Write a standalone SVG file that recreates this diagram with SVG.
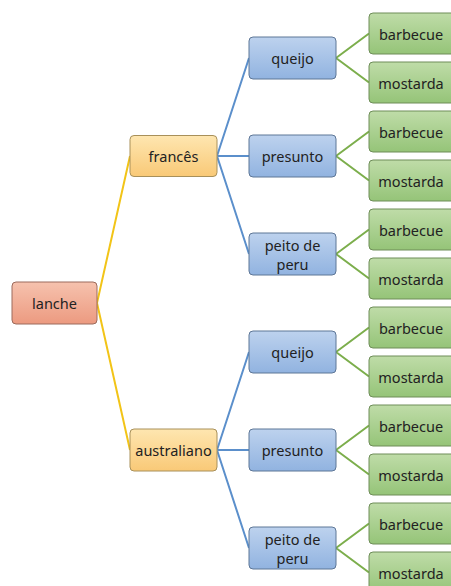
<svg xmlns="http://www.w3.org/2000/svg" width="451" height="586" viewBox="0 0 451 586">
<defs>
<linearGradient id="gRed" x1="0" y1="0" x2="0" y2="1"><stop offset="0" stop-color="#f6c2ae"/><stop offset="1" stop-color="#ec9a80"/></linearGradient>
<linearGradient id="gOrg" x1="0" y1="0" x2="0" y2="1"><stop offset="0" stop-color="#fee6b0"/><stop offset="1" stop-color="#f9c977"/></linearGradient>
<linearGradient id="gBlu" x1="0" y1="0" x2="0" y2="1"><stop offset="0" stop-color="#bdd2ee"/><stop offset="1" stop-color="#91b3e0"/></linearGradient>
<linearGradient id="gGrn" x1="0" y1="0" x2="0" y2="1"><stop offset="0" stop-color="#bfdca8"/><stop offset="1" stop-color="#95c478"/></linearGradient>
</defs>
<style>
rect{stroke-width:1}
.red rect{fill:url(#gRed);stroke:#9c6a5c}
.org rect{fill:url(#gOrg);stroke:#a8905a}
.blu rect{fill:url(#gBlu);stroke:#5d7696}
.grn rect{fill:url(#gGrn);stroke:#6e8d58}
text{font-family:"Noto Sans","Open Sans","Liberation Sans",sans-serif;font-size:14.5px;fill:#222;text-anchor:middle;dominant-baseline:central}
.y{stroke:#f2c417;stroke-width:2;fill:none}
.b{stroke:#5b8fcb;stroke-width:2;fill:none}
.g{stroke:#7cae4c;stroke-width:2;fill:none}
</style>
<g id="connectors">
<path class="y" d="M97,303L130,156M97,303L130,450"/>
<path class="b" d="M217,156L249,58M217,156L249,156M217,156L249,254M217,450L249,352M217,450L249,450M217,450L249,548"/>
<path class="g" d="M336,58L369,33.5M336,58L369,82.5M336,156L369,131.5M336,156L369,180.5M336,254L369,229.5M336,254L369,278.5M336,352L369,327.5M336,352L369,376.5M336,450L369,425.5M336,450L369,474.5M336,548L369,523.5M336,548L369,572.5"/>
</g>
<g id="lanche" class="red"><rect x="12" y="282" width="85" height="42" rx="4"/><text x="54.5" y="303">lanche</text></g>
<g id="frances" class="org"><rect x="130" y="135.5" width="87" height="41" rx="4"/><text x="173.5" y="156">francês</text></g>
<g id="australiano" class="org"><rect x="130" y="429" width="87" height="42" rx="4"/><text x="173.5" y="450">australiano</text></g>
<g id="queijo1" class="blu"><rect x="249" y="37" width="87" height="42" rx="4"/><text x="292.5" y="58">queijo</text></g>
<g id="presunto1" class="blu"><rect x="249" y="135" width="87" height="42" rx="4"/><text x="292.5" y="156">presunto</text></g>
<g id="peito1" class="blu"><rect x="249" y="233" width="87" height="42" rx="4"/><text x="292.5" y="245">peito de</text><text x="292.5" y="264">peru</text></g>
<g id="queijo2" class="blu"><rect x="249" y="331" width="87" height="42" rx="4"/><text x="292.5" y="352">queijo</text></g>
<g id="presunto2" class="blu"><rect x="249" y="429" width="87" height="42" rx="4"/><text x="292.5" y="450">presunto</text></g>
<g id="peito2" class="blu"><rect x="249" y="527" width="87" height="42" rx="4"/><text x="292.5" y="539">peito de</text><text x="292.5" y="558">peru</text></g>
<g id="b1" class="grn"><rect x="369" y="13" width="87" height="41" rx="4"/><text x="411" y="33.5">barbecue</text></g>
<g id="m1" class="grn"><rect x="369" y="62" width="87" height="41" rx="4"/><text x="411" y="82.5">mostarda</text></g>
<g id="b2" class="grn"><rect x="369" y="111" width="87" height="41" rx="4"/><text x="411" y="131.5">barbecue</text></g>
<g id="m2" class="grn"><rect x="369" y="160" width="87" height="41" rx="4"/><text x="411" y="180.5">mostarda</text></g>
<g id="b3" class="grn"><rect x="369" y="209" width="87" height="41" rx="4"/><text x="411" y="229.5">barbecue</text></g>
<g id="m3" class="grn"><rect x="369" y="258" width="87" height="41" rx="4"/><text x="411" y="278.5">mostarda</text></g>
<g id="b4" class="grn"><rect x="369" y="307" width="87" height="41" rx="4"/><text x="411" y="327.5">barbecue</text></g>
<g id="m4" class="grn"><rect x="369" y="356" width="87" height="41" rx="4"/><text x="411" y="376.5">mostarda</text></g>
<g id="b5" class="grn"><rect x="369" y="405" width="87" height="41" rx="4"/><text x="411" y="425.5">barbecue</text></g>
<g id="m5" class="grn"><rect x="369" y="454" width="87" height="41" rx="4"/><text x="411" y="474.5">mostarda</text></g>
<g id="b6" class="grn"><rect x="369" y="503" width="87" height="41" rx="4"/><text x="411" y="523.5">barbecue</text></g>
<g id="m6" class="grn"><rect x="369" y="552" width="87" height="41" rx="4"/><text x="411" y="572.5">mostarda</text></g>
</svg>
